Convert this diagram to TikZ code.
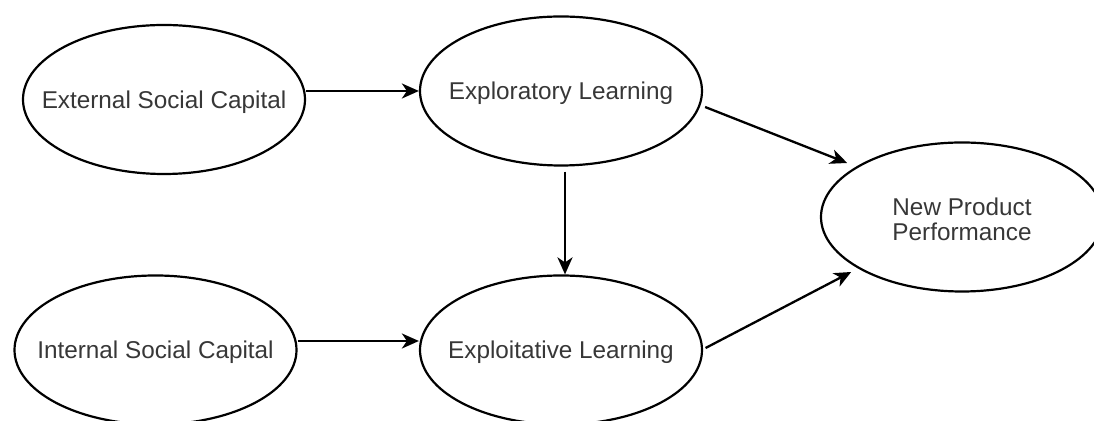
\documentclass[tikz,border=0pt]{standalone}
\usepackage{fontspec}
\setmainfont{Liberation Sans}
\usetikzlibrary{shapes.geometric,arrows.meta}
\definecolor{txt}{RGB}{55,55,55}
\begin{document}
\begin{tikzpicture}[x=0.5pt,y=-0.5pt,
  latent/.style={ellipse,draw=black,line width=1.1pt,minimum width=141pt,minimum height=74.5pt,
    inner sep=0pt},
  lbl/.style={text=txt,align=center,inner sep=0pt,yshift=-1.2pt,font=\fontsize{12.15}{12.5}\selectfont},
  arr/.style={draw=black,line width=1.15pt,-{Stealth[length=8.5pt,width=7.5pt,inset=2.5pt]}}]
\useasboundingbox (0,0) rectangle (1094,421);
\clip (0,0) rectangle (1094,421);
\node[latent,label={[lbl]center:External Social Capital}] (E1) at (164,99.5) {};
\node[latent,label={[lbl]center:Exploratory Learning}] (E2) at (561,91) {};
\node[latent,label={[lbl]center:New Product\\Performance}] (E3) at (962,217) {};
\node[latent,label={[lbl]center:Internal Social Capital}] (E4) at (155.5,350) {};
\node[latent,label={[lbl]center:Exploitative Learning}] (E5) at (561,350) {};
\draw[arr] (E1.east |- E2.west) -- (E2.west);
\draw[arr] ([yshift=4.5pt]E4.east) -- ([yshift=4.5pt]E5.west);
\draw[arr] ([xshift=2pt,yshift=-2.5pt]E2.south) -- ([xshift=2pt]E5.north);
\draw[arr] ([xshift=1pt,yshift=-8pt]E2.east) -- ([xshift=13.65pt,yshift=27pt]E3.west);
\draw[arr] ([xshift=1.25pt,yshift=1pt]E5.east) -- ([xshift=15.65pt,yshift=-27.5pt]E3.west);
\end{tikzpicture}
\end{document}
